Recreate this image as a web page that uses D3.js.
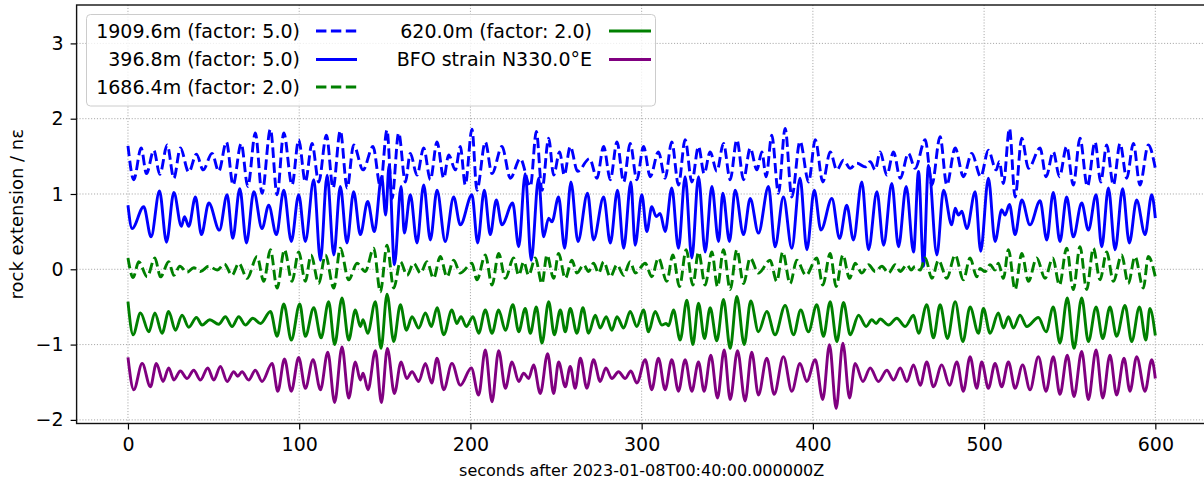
<!DOCTYPE html>
<html><head><meta charset="utf-8">
<script src="https://cdn.jsdelivr.net/npm/d3@7"></script>
<style>
body{margin:0;background:#fff}
svg{display:block}
text{font-family:"DejaVu Sans",sans-serif;fill:#000}
</style>
</head><body>
<svg id="chart" width="1204" height="484"></svg>
<script>
// ---------- data (extrema: seconds, value) ----------
const seriesNames = ["1909.6m (factor: 5.0)", "396.8m (factor: 5.0)", "1686.4m (factor: 2.0)", "620.0m (factor: 2.0)", "BFO strain N330.0°E"];
const xTicks = [0, 100, 200, 300, 400, 500, 600];
const yTicks = [-2, -1, 0, 1, 2, 3];
const xLabel = "seconds after 2023-01-08T00:40:00.000000Z";
const yLabel = "rock extension / nε";

const s1T = [0,3.4,7.7,10.8,15.1,18.6,22.9,26.8,30.6,35.5,40.0,43.9,49.1,53.0,57.5,61.4,66.1,70.0,74.4,78.3,83.2,87.1,91.0,
95.8,99.7,103.6,107.5,111.4,115.9,119.8,124.0,128.0,131.8,137.3,143.1,147.4,151.3,154.2,158.1,162.0,164.9,168.8,172.7,176.6,180.5,184.4,187.3,191.2,194.1,
197.0,200.9,203.8,208.7,212.6,218.4,223.3,229.1,235.0,238.5,241.8,245.7,248.6,252.1,254.8,258.3,262.6,269.6,273.9,277.8,281.7,285.6,289.5,293.3,
297.2,301.1,305.0,309.8,313.7,317.6,321.5,325.4,329.3,333.2,336.5,340.0,343.9,347.8,351.7,355.6,359.5,363.4,367.3,370.2,372.7,376.0,379.9,383.8,387.7,392.5,
397.5,401.4,405.8,410.1,414.0,417.9,421.8,425.7,430.5,433.5,436.4,439.3,443.2,447.1,451.0,455.8,459.7,465.6,469.5,474.3,478.2,483.1,487.9,492.8,
498.0,502.5,507.0,508.9,511.3,514.8,518.1,522.0,525.9,532.7,536.2,540.4,544.0,548.2,552.1,556.0,560.3,564.8,568.1,571.6,575.5,579.4,583.3,587.2,591.0,595.9,600];
const s1V = [1.64,1.19,1.61,1.27,1.58,1.26,1.65,1.21,1.61,1.29,1.53,1.32,1.54,1.30,1.69,1.12,1.67,1.10,1.81,1.01,1.86,0.99,1.81,
1.12,1.72,1.16,1.67,1.16,1.78,1.08,1.84,1.08,1.65,1.32,1.63,1.10,1.85,0.94,1.81,1.16,1.54,1.25,1.61,1.19,1.69,1.21,1.52,1.32,1.63,
1.12,1.86,1.05,1.69,1.27,1.63,1.21,1.47,1.10,1.83,1.05,1.74,1.25,1.56,1.25,1.63,1.30,1.47,1.21,1.63,1.19,1.69,1.16,1.67,
1.19,1.63,1.23,1.56,1.21,1.69,1.12,1.72,1.16,1.63,1.27,1.56,1.30,1.67,1.19,1.72,1.19,1.61,1.32,1.56,1.23,1.78,1.01,1.87,0.96,1.70,
1.16,1.72,1.16,1.56,1.32,1.45,1.34,1.41,1.36,1.43,1.32,1.56,1.25,1.56,1.21,1.54,1.34,1.72,1.12,1.76,1.12,1.61,1.23,1.54,
1.23,1.58,1.32,1.43,1.14,1.87,0.96,1.74,1.34,1.61,1.23,1.56,1.23,1.63,1.12,1.74,1.10,1.69,1.16,1.65,1.12,1.67,1.21,1.67,1.12,1.65,1.34];

const s2T = [0,2.4,9.2,13.5,18.4,22.5,26.8,31.2,33.0,35.5,39.4,42.9,47.2,53.4,57.9,61.2,65.3,69.2,73.5,78.3,82.2,86.7,91.0,
95.4,99.7,103.6,108.5,112.4,116.3,120.2,124.0,127.9,131.8,135.7,140.0,143.9,148.2,150.5,152.5,155.6,159.5,161.4,164.9,168.8,172.7,176.6,180.5,185.3,190.2,194.1,
200.9,204.2,208.1,211.6,215.1,218.4,224.7,228.2,232.0,235.5,239.8,242.7,245.7,247.6,251.5,255.0,258.7,262.8,268.4,271.9,277.8,281.7,285.9,289.5,293.7,
296.2,300.1,303.0,305.9,308.5,310.8,313.7,317.6,321.5,325.4,329.3,333.2,337.1,341.0,344.9,347.4,351.3,354.6,359.5,363.4,368.2,374.1,377.9,382.8,387.7,392.5,
396.5,400.8,404.7,411.1,415.6,419.8,423.7,428.6,432.5,437.4,441.3,446.1,450.0,454.5,458.8,461.7,464.6,467.5,472.4,476.3,481.1,483.1,485.0,487.0,489.9,494.8,
498.0,502.5,506.4,510.3,512.2,514.8,518.1,522.0,526.8,532.7,536.6,540.4,544.3,548.2,552.1,557.0,560.9,565.4,568.7,572.6,576.5,580.9,584.8,589.1,594.0,597.9,600];
const s2V = [0.85,0.54,0.83,0.43,1.04,0.36,1.02,0.57,0.70,0.57,0.96,0.46,0.88,0.52,0.99,0.41,1.07,0.35,1.03,0.54,0.85,0.46,1.05,
0.37,0.99,0.37,1.19,0.12,1.25,0.19,1.10,0.35,1.03,0.46,0.90,0.50,1.23,0.72,1.38,0.06,1.10,0.48,0.99,0.35,1.12,0.39,1.05,0.37,0.96,0.59,
0.99,0.35,1.05,0.46,0.92,0.59,0.88,0.30,1.27,0.12,1.21,0.43,0.68,0.63,0.96,0.28,1.16,0.37,1.01,0.39,0.96,0.35,1.05,0.28,1.16,
0.32,0.99,0.50,0.83,0.70,0.74,0.50,1.08,0.28,1.23,0.15,1.23,0.23,1.10,0.37,1.01,0.37,1.05,0.46,0.94,0.48,1.10,0.30,0.96,0.28,1.21,
0.26,1.05,0.52,0.94,0.41,0.85,0.39,1.16,0.26,1.03,0.32,1.14,0.30,1.10,0.23,1.30,0.04,1.38,0.19,1.05,0.59,0.81,0.72,0.77,0.54,1.03,
0.24,1.21,0.37,0.79,0.72,0.86,0.46,0.92,0.59,0.91,0.39,1.02,0.37,0.96,0.43,0.88,0.52,0.99,0.30,1.08,0.26,1.07,0.35,0.92,0.46,0.99,0.68];

const s3T = [0,3.0,6.3,11.2,15.7,19.0,23.8,26.8,30.3,34.5,38.4,42.3,47.2,52.1,56.3,60.8,64.7,69.6,75.4,79.3,83.2,87.1,91.4,
95.8,99.7,103.6,106.9,111.4,115.3,120.2,124.0,128.9,133.8,138.6,143.5,147.4,151.3,155.2,159.1,163.0,166.9,170.8,174.6,178.5,182.4,186.3,190.2,194.1,
200.9,203.8,208.7,212.6,216.5,220.4,225.2,228.2,231.1,234.0,237.9,241.8,244.7,248.6,251.5,255.4,259.3,262.2,266.1,269.0,271.9,274.9,277.8,281.7,285.6,289.5,293.3,296.3,
302.1,305.9,309.8,314.7,318.2,322.1,326.0,329.9,333.2,337.1,341.0,344.3,347.8,351.7,355.6,359.5,363.4,368.2,375.0,378.9,382.4,386.7,390.6,396.0,
402.3,405.8,410.1,413.6,417.5,421.4,424.7,428.6,432.5,436.4,440.3,444.2,448.1,451.0,454.9,457.4,459.7,462.7,465.6,469.5,473.4,478.2,483.1,487.9,491.8,495.7,
497.6,500.6,503.5,506.4,508.3,511.3,514.2,518.1,522.0,525.9,530.7,535.6,540.1,544.0,548.2,552.1,556.0,559.9,563.8,567.7,571.6,575.5,580.3,584.2,588.1,593.0,595.9,600];
const s3V = [0.15,-0.11,0.10,-0.10,0.15,-0.10,0.10,-0.08,0.04,-0.04,0.02,-0.03,0.04,-0.01,0.07,-0.08,0.08,-0.12,0.17,-0.16,0.26,-0.25,0.26,
-0.16,0.23,-0.16,0.19,-0.19,0.19,-0.25,0.28,-0.14,0.08,-0.03,0.28,-0.30,0.32,-0.25,0.10,-0.08,0.08,-0.05,0.10,-0.12,0.17,-0.10,0.12,-0.05,
0.08,-0.14,0.19,-0.21,0.21,-0.12,0.15,-0.08,0.10,-0.08,0.15,-0.19,0.19,-0.12,0.21,-0.12,0.12,-0.05,0.06,-0.03,0.08,-0.05,0.10,-0.10,0.06,-0.08,0.10,-0.05,
0.08,-0.10,0.15,-0.16,0.19,-0.23,0.26,-0.21,0.23,-0.21,0.23,-0.23,0.26,-0.27,0.26,-0.19,0.15,-0.05,0.12,-0.16,0.23,-0.19,0.12,-0.08,
0.15,-0.21,0.21,-0.23,0.19,-0.12,0.08,-0.05,0.06,-0.03,0.04,-0.05,0.06,-0.03,0.06,-0.01,0.04,-0.01,0.15,-0.12,0.12,-0.12,0.19,-0.14,0.15,-0.10,
0.01,-0.03,0.06,-0.01,0.08,-0.12,0.26,-0.27,0.21,-0.16,0.15,-0.12,0.15,-0.21,0.28,-0.27,0.30,-0.27,0.28,-0.14,0.23,-0.16,0.19,-0.19,0.17,-0.25,0.17,-0.10];

const s4T = [0,3.0,7.3,12.2,15.7,19.9,23.8,27.7,31.6,35.5,40.0,43.3,47.8,53.0,56.9,60.8,64.7,68.6,72.9,77.4,83.2,87.1,91.0,95.4,
100.3,103.6,108.5,112.8,117.2,120.7,125.0,128.9,132.8,135.7,137.3,140.0,144.5,147.8,151.3,155.2,159.1,162.6,165.9,169.8,173.7,177.2,180.5,184.4,189.2,192.0,194.5,
197.6,201.5,204.8,208.7,212.6,216.5,220.4,224.8,228.2,232.0,235.0,238.5,241.8,245.7,249.0,252.5,255.4,258.3,262.2,265.7,269.0,272.9,275.8,279.3,282.6,285.6,289.5,293.3,297.2,
301.1,304.0,307.9,311.8,314.3,315.7,318.6,322.5,326.4,329.9,333.2,336.7,340.0,343.9,347.8,351.7,355.6,359.9,363.7,368.2,373.1,377.9,383.8,388.7,392.9,397.4,
402.3,406.2,410.1,414.0,417.9,421.8,426.7,431.1,434.4,437.0,439.3,444.2,449.0,453.9,458.8,461.7,466.5,470.4,474.3,478.6,483.1,487.6,491.8,496.7,
499.6,503.5,508.3,511.3,514.2,517.1,521.0,524.9,531.7,536.2,540.4,544.3,548.6,552.5,557.0,560.9,565.4,569.3,573.5,577.4,582.3,586.2,590.7,594.5,596.8,600];
const s4V = [-0.43,-0.87,-0.58,-0.83,-0.58,-0.85,-0.56,-0.81,-0.61,-0.77,-0.64,-0.74,-0.67,-0.73,-0.63,-0.76,-0.63,-0.74,-0.65,-0.72,-0.56,-0.89,-0.46,-0.94,
-0.46,-0.89,-0.51,-0.91,-0.43,-1.00,-0.38,-0.94,-0.54,-0.76,-0.67,-0.85,-0.43,-1.05,-0.33,-0.96,-0.47,-0.81,-0.63,-0.78,-0.58,-0.76,-0.51,-0.87,-0.54,-0.72,-0.63,
-0.76,-0.63,-0.85,-0.54,-0.85,-0.54,-0.81,-0.47,-0.83,-0.52,-0.85,-0.50,-0.98,-0.43,-0.87,-0.54,-0.83,-0.52,-0.85,-0.51,-0.85,-0.61,-0.78,-0.63,-0.81,-0.63,-0.78,-0.56,-0.76,
-0.54,-0.83,-0.56,-0.74,-0.72,-0.75,-0.54,-0.94,-0.41,-1.00,-0.45,-0.92,-0.51,-0.95,-0.40,-1.05,-0.36,-1.00,-0.42,-0.83,-0.56,-0.87,-0.48,-0.87,-0.54,-0.83,
-0.47,-0.89,-0.43,-0.96,-0.44,-0.87,-0.61,-0.76,-0.67,-0.72,-0.66,-0.74,-0.65,-0.76,-0.61,-0.85,-0.47,-0.91,-0.47,-0.92,-0.43,-0.96,-0.50,-0.85,
-0.52,-0.85,-0.58,-0.78,-0.63,-0.78,-0.61,-0.76,-0.64,-0.83,-0.50,-0.98,-0.38,-1.05,-0.38,-0.96,-0.50,-0.92,-0.50,-0.89,-0.48,-0.96,-0.50,-0.94,-0.52,-0.88];

const s5T = [0,3.4,8.3,13.1,16.6,20.5,23.8,26.8,30.6,34.5,38.4,42.3,46.6,50.1,54.0,57.9,61.8,64.1,66.6,70.5,74.4,78.3,84.2,87.5,91.4,95.4,
99.7,103.6,108.1,112.4,116.7,120.7,125.0,128.9,132.8,135.7,137.3,140.2,144.5,148.0,151.5,155.6,159.5,162.8,165.9,169.8,173.7,177.4,180.5,184.4,189.2,194.1,
200.5,204.8,208.7,212.6,216.5,220.4,224.3,228.2,231.1,234.0,236.9,240.8,245.1,248.6,251.5,255.4,258.3,261.2,264.2,268.0,271.9,275.8,279.1,282.6,286.5,290.4,293.7,297.2,
302.1,305.9,309.8,313.7,317.6,321.5,325.4,329.3,333.2,336.5,340.4,344.3,348.2,351.7,356.0,360.4,364.3,368.2,373.1,377.4,382.8,387.7,392.5,396.4,
401.4,405.8,409.7,413.6,417.5,421.4,424.7,429.2,433.5,438.3,443.2,447.1,451.0,454.9,458.8,462.7,466.5,470.4,475.3,479.8,484.1,487.9,491.8,495.7,
498.6,502.5,506.4,510.3,514.2,518.1,522.5,526.8,531.7,536.2,540.4,544.3,548.6,552.5,557.0,560.9,565.4,569.3,573.5,577.4,581.7,585.2,589.1,594.0,597.9,600];
const s5V = [-1.17,-1.60,-1.25,-1.56,-1.25,-1.49,-1.31,-1.47,-1.35,-1.45,-1.34,-1.47,-1.31,-1.47,-1.29,-1.49,-1.36,-1.42,-1.36,-1.47,-1.34,-1.49,-1.25,-1.62,-1.19,-1.62,
-1.17,-1.58,-1.20,-1.60,-1.10,-1.77,-1.03,-1.71,-1.23,-1.47,-1.38,-1.60,-1.08,-1.77,-1.05,-1.65,-1.23,-1.45,-1.36,-1.49,-1.25,-1.51,-1.18,-1.60,-1.25,-1.54,
-1.31,-1.67,-1.07,-1.76,-1.08,-1.58,-1.23,-1.49,-1.38,-1.45,-1.27,-1.65,-1.12,-1.65,-1.23,-1.56,-1.29,-1.58,-1.18,-1.58,-1.20,-1.49,-1.31,-1.45,-1.36,-1.45,-1.35,-1.51,
-1.20,-1.60,-1.18,-1.60,-1.20,-1.62,-1.20,-1.62,-1.23,-1.62,-1.14,-1.71,-1.07,-1.73,-1.08,-1.75,-1.10,-1.67,-1.18,-1.66,-1.16,-1.62,-1.25,-1.49,
-1.20,-1.73,-1.00,-1.85,-0.98,-1.71,-1.25,-1.49,-1.31,-1.49,-1.34,-1.47,-1.31,-1.49,-1.27,-1.54,-1.23,-1.56,-1.27,-1.54,-1.23,-1.62,-1.16,-1.58,
-1.23,-1.58,-1.25,-1.56,-1.23,-1.58,-1.27,-1.60,-1.16,-1.62,-1.16,-1.66,-1.14,-1.69,-1.09,-1.73,-1.07,-1.71,-1.14,-1.67,-1.18,-1.62,-1.16,-1.62,-1.20,-1.45];

// ---------- styles ----------
const seriesColors = ["#0000ff", "#0000ff", "#008000", "#008000", "#800080"];
const seriesDash = ["10.4,4.5", null, "10.4,4.5", null, null];
const times = [s1T, s2T, s3T, s4T, s5T];
const values = [s1V, s2V, s3V, s4V, s5V];

// ---------- layout ----------
const W = 1204, H = 484;
const plot = {left: 76.6, right: 1206.7, top: 5, bottom: 423.5};
const svg = d3.select("#chart");

const x = d3.scaleLinear().domain([-30, 630]).range([plot.left, plot.right]);
const y = d3.scaleLinear().domain([-2.048, 3.51]).range([plot.bottom, plot.top]);

svg.append("rect").attr("width", W).attr("height", H).attr("fill", "#fff");

// grid
const gridStyle = sel => sel.attr("stroke", "#a8a8a8").attr("stroke-width", 1).attr("stroke-dasharray", "1.1,1.8");
const grid = svg.append("g");
grid.selectAll("line.vx").data(xTicks).join("line")
  .attr("x1", d => x(d)).attr("x2", d => x(d))
  .attr("y1", plot.top).attr("y2", plot.bottom).call(gridStyle);
grid.selectAll("line.hy").data(yTicks).join("line")
  .attr("y1", d => y(d)).attr("y2", d => y(d))
  .attr("x1", plot.left).attr("x2", plot.right).call(gridStyle);

// clip
svg.append("clipPath").attr("id", "clip").append("rect")
  .attr("x", plot.left).attr("y", plot.top)
  .attr("width", plot.right - plot.left).attr("height", plot.bottom - plot.top);

const line = d3.line().x(d => x(d[0])).y(d => y(d[1])).curve(d3.curveMonotoneX);
const lines = svg.append("g").attr("clip-path", "url(#clip)");
times.forEach((tArr, i) => {
  const pts = tArr.map((t, j) => [t, values[i][j]]);
  lines.append("path").datum(pts)
    .attr("d", line)
    .attr("fill", "none")
    .attr("stroke", seriesColors[i])
    .attr("stroke-width", 2.9)
    .attr("stroke-linejoin", "round")
    .attr("stroke-dasharray", seriesDash[i]);
});

// axes
const fmt = d3.format("d");
const xAxis = svg.append("g").attr("transform", `translate(0,${plot.bottom})`)
  .call(d3.axisBottom(x).tickValues(xTicks).tickFormat(fmt).tickSize(6).tickPadding(8.5));
const yAxis = svg.append("g").attr("transform", `translate(${plot.left},0)`)
  .call(d3.axisLeft(y).tickValues(yTicks).tickFormat(fmt).tickSize(6).tickPadding(7));
[xAxis, yAxis].forEach(a => {
  a.select(".domain").remove();
  a.selectAll(".tick line").attr("stroke", "#000").attr("stroke-width", 1.2);
  a.selectAll(".tick text").style("font-family", "DejaVu Sans").style("font-size", "19px").attr("fill", "#000");
});

// frame
svg.append("rect")
  .attr("x", plot.left).attr("y", plot.top)
  .attr("width", plot.right - plot.left).attr("height", plot.bottom - plot.top)
  .attr("fill", "none").attr("stroke", "#111").attr("stroke-width", 1.4);

// labels
svg.append("text").attr("x", (plot.left + plot.right) / 2).attr("y", 476)
  .attr("text-anchor", "middle").style("font-size", "16px").text(xLabel);
svg.append("text").attr("transform", `translate(23,${(plot.top + plot.bottom) / 2}) rotate(-90)`)
  .attr("text-anchor", "middle").style("font-size", "18px").text(yLabel);

// legend
const lg = svg.append("g");
lg.append("rect").attr("x", 86.5).attr("y", 14.5).attr("width", 569).attr("height", 91.5)
  .attr("rx", 4).attr("fill", "#fff").attr("fill-opacity", 0.8)
  .attr("stroke", "#cccccc").attr("stroke-width", 1);
const rowsY = [31, 59.5, 87];
const cols = [{textRight: 300, h0: 316, h1: 357}, {textRight: 592, h0: 609, h1: 651}];
seriesNames.forEach((name, i) => {
  const c = cols[i < 3 ? 0 : 1];
  const ry = rowsY[i < 3 ? i : i - 3];
  lg.append("text").attr("x", c.textRight).attr("y", ry).attr("dy", "0.36em")
    .attr("text-anchor", "end").style("font-size", "19px").text(name);
  lg.append("line").attr("x1", c.h0).attr("x2", c.h1).attr("y1", ry).attr("y2", ry)
    .attr("stroke", seriesColors[i]).attr("stroke-width", 2.9)
    .attr("stroke-dasharray", seriesDash[i]);
});
</script>
</body></html>
